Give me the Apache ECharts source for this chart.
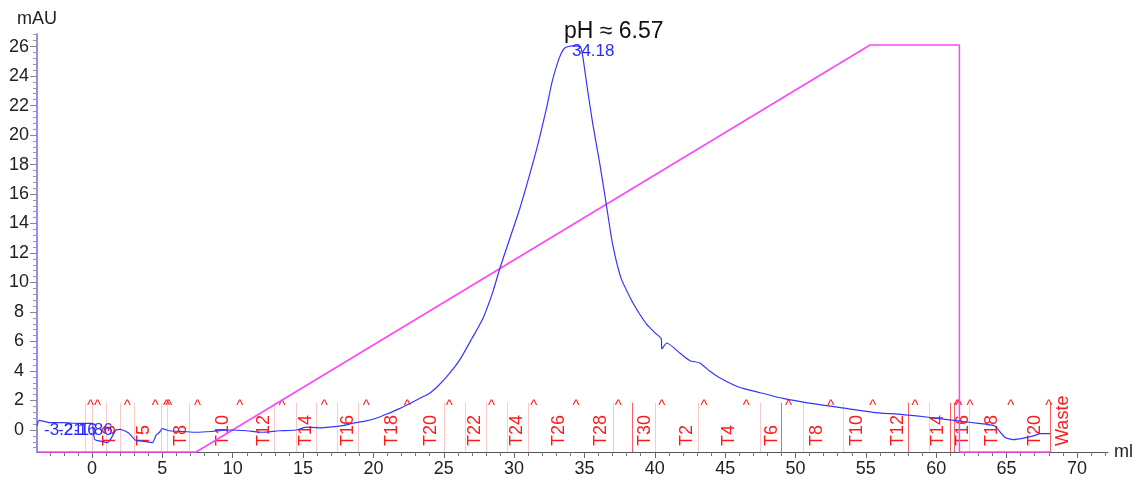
<!DOCTYPE html>
<html><head><meta charset="utf-8">
<script src="https://cdn.jsdelivr.net/npm/echarts@6/dist/echarts.min.js"></script>
<style>html,body{margin:0;padding:0;background:#fff}#c{width:1139px;height:481px}</style>
</head><body><div id="c"></div>
<script>
// ---- data ----
const uvCurve = [
 [-3.91,0.3],[-3.75,0.65],[-3.0,0.5],[-2.1,0.5],[-1.0,0.45],[0.0,0.45],[0.1,-0.2],[0.2,-0.65],[0.6,-0.75],
 [1.1,-0.85],[1.4,-0.5],[1.7,0.0],[2.0,0.05],[2.6,-0.2],[3.1,-0.7],[3.6,-0.75],[4.3,-0.85],[4.55,-0.35],
 [4.8,-0.15],[5.0,0.1],[5.5,-0.05],[6.5,-0.1],[7.4,-0.15],[8.5,-0.1],[9.75,0.0],[11.0,-0.05],[12.1,-0.15],
 [13.3,-0.05],[14.5,0.0],[15.2,0.2],[16.2,0.15],[16.9,0.2],[17.8,0.3],[18.5,0.45],[19.4,0.6],[20.2,0.8],
 [21.0,1.1],[21.85,1.45],[22.8,1.9],[23.3,2.15],[24.0,2.5],[24.5,2.9],[25.2,3.6],[26.1,4.7],[27.0,6.2],
 [27.8,7.6],[28.5,9.4],[29.0,11.0],[29.7,13.0],[30.4,15.0],[31.1,17.3],[31.7,19.4],[32.3,21.8],[32.7,23.6],
 [33.2,25.2],[33.6,25.9],[34.18,26.05],[34.7,26.0],[34.9,25.2],[35.2,23.2],[35.6,20.7],[36.1,18.0],
 [36.6,15.0],[37.0,12.6],[37.6,10.3],[38.4,8.7],[38.9,7.9],[39.4,7.2],[40.0,6.6],[40.45,6.2],[40.5,5.5],
 [40.85,5.9],[41.8,5.2],[42.5,4.7],[43.2,4.55],[43.9,4.0],[44.6,3.55],[46.0,2.9],[47.2,2.6],[49.1,2.15],
 [51.5,1.75],[53.7,1.45],[55.5,1.2],[57.6,1.05],[59.6,0.85],[61.7,0.6],[63.0,0.45],[64.1,0.3],[64.3,0.15],
 [64.9,-0.5],[65.5,-0.65],[66.2,-0.55],[66.9,-0.4],[67.4,-0.25],[68.1,-0.25]
];
const gradientCurve = [[-3.91,0],[7.4,0],[55.3,100],[61.65,100],[61.65,0],[68.1,0]];
const xTickLabels = [0,5,10,15,20,25,30,35,40,45,50,55,60,65,70];
const yTickLabels = [0,2,4,6,8,10,12,14,16,18,20,22,24,26];
const fractionLabels = ['T3','T5','T8','T10','T12','T14','T16','T18','T20','T22','T24','T26','T28','T30',
  'T2','T4','T6','T8','T10','T12','T14','T16','T18','T20','Waste'];
const fractionLabelMl = [1.3,3.7,6.3,9.3,12.2,15.2,18.2,21.3,24.1,27.2,30.2,33.2,36.2,39.3,
  42.3,45.3,48.3,51.5,54.4,57.3,60.1,61.9,64.0,67.0,69.0];
const fractionLinesFaint = [-0.5,0.0,1.0,2.0,3.0,4.9,5.3,6.9,12.9,14.5,15.9,17.4,18.9,25.0,26.5,28.0,29.5,31.0,
  37.0,40.0,43.1,47.5,50.5,53.4,59.5,62.3];
const fractionLinesStrong = [38.4,49.0,58.0,61.0,61.3,68.1];
const injectMarks = [-0.1,0.4,2.5,4.5,5.3,5.45,7.5,10.5,13.5,16.5,19.5,22.4,25.4,28.4,31.4,34.4,37.4,
  40.5,43.5,46.5,49.5,52.5,55.5,58.5,61.5,61.6,62.4,65.3,68.0];
const peakLabels = ['-3.21','-2.16','-1.86'];
const peakLabelMl = [-3.41,-2.42,-1.28];
const mainPeakLabel = '34.18';
const mainPeak = [34.18, 26.05];
const titleText = 'pH \u2248 6.57';

// ---- layout / style ----
const FONT = '"Liberation Sans", Arial, Helvetica, sans-serif';
const X_MIN = -3.91, X_MAX = 72.21, Y_MIN = -1.49, Y_MAX = 26.85;
const LINE_TOP = 1.85, LABEL_BASE = -1.08, MARK_Y = 1.62;

const xMinor = []; for (let i = -3; i <= 72; i++) xMinor.push(i);
const yMinor = []; for (let i = -3; i <= 67; i++) yMinor.push(Math.round(i * 0.4 * 100) / 100);

function vLines(color) {
  return function (params, api) {
    const a = api.coord([api.value(0), Y_MIN]);
    const b = api.coord([api.value(0), LINE_TOP]);
    const x = Math.round(a[0]) + 0.5;
    return { type: 'line', shape: { x1: x, y1: a[1], x2: x, y2: b[1] }, style: { stroke: color, lineWidth: 1 } };
  };
}

const chart = echarts.init(document.getElementById('c'), null, { renderer: 'canvas' });
chart.setOption({
  animation: false,
  backgroundColor: '#fff',
  title: { text: titleText, left: 559, top: 15, textStyle: { fontFamily: FONT, fontSize: 23, fontWeight: 'normal', color: '#111' } },
  grid: { left: 37, right: 31, top: 34, bottom: 29, containLabel: false },
  xAxis: [
    { type: 'value', min: X_MIN, max: X_MAX, position: 'bottom', offset: 0,
      name: 'ml', nameLocation: 'end', nameGap: 6,
      nameTextStyle: { fontFamily: FONT, fontSize: 18, color: '#222', verticalAlign: 'middle' },
      axisLine: { show: true, onZero: false, lineStyle: { color: '#555', width: 1 } },
      axisTick: { show: true, customValues: xMinor, length: 4, lineStyle: { color: '#777' } },
      axisLabel: { show: false }, splitLine: { show: false } },
    { type: 'value', min: X_MIN, max: X_MAX, position: 'bottom', offset: 0,
      axisLine: { show: false, onZero: false },
      axisTick: { show: true, customValues: xTickLabels, length: 6, lineStyle: { color: '#666' } },
      axisLabel: { show: true, customValues: xTickLabels, margin: 8, fontFamily: FONT, fontSize: 18, color: '#222' },
      splitLine: { show: false } }
  ],
  yAxis: [
    { type: 'value', min: Y_MIN, max: Y_MAX, position: 'left', offset: 0,
      name: 'mAU', nameLocation: 'end', nameGap: 6,
      nameTextStyle: { fontFamily: FONT, fontSize: 18, color: '#222', align: 'center' },
      axisLine: { show: true, onZero: false, lineStyle: { color: '#8f8fff', width: 2 } },
      axisTick: { show: true, customValues: yMinor, length: 4, lineStyle: { color: '#999' } },
      axisLabel: { show: false }, splitLine: { show: false } },
    { type: 'value', min: Y_MIN, max: Y_MAX, position: 'left', offset: 0,
      axisLine: { show: false, onZero: false },
      axisTick: { show: true, customValues: yTickLabels, length: 7, lineStyle: { color: '#888' } },
      axisLabel: { show: true, customValues: yTickLabels, align: 'center', margin: 18, fontFamily: FONT, fontSize: 18, color: '#222' },
      splitLine: { show: false } },
    { type: 'value', min: 0, max: 102.7, show: false, axisLine: { onZero: false } }
  ],
  series: [
    { type: 'custom', name: 'fracFaint', xAxisIndex: 0, yAxisIndex: 0, z: 1,
      data: fractionLinesFaint.map(v => [v, 0]), renderItem: vLines('rgba(255,60,60,0.28)') },
    { type: 'custom', name: 'fracStrong', xAxisIndex: 0, yAxisIndex: 0, z: 1,
      data: fractionLinesStrong.map(v => [v, 0]), renderItem: vLines('rgba(255,40,40,0.75)') },
    { type: 'custom', name: 'fracLabels', xAxisIndex: 0, yAxisIndex: 0, z: 3,
      data: fractionLabelMl.map(v => [v, LABEL_BASE]),
      renderItem: function (params, api) {
        const p = api.coord([api.value(0), api.value(1)]);
        return { type: 'text', x: p[0], y: p[1], rotation: Math.PI / 2,
          style: { text: fractionLabels[params.dataIndex], fill: '#ff1a1a', fontFamily: FONT, fontSize: 18, align: 'left', verticalAlign: 'middle' } };
      } },
    { type: 'custom', name: 'marks', xAxisIndex: 0, yAxisIndex: 0, z: 3,
      data: injectMarks.map(v => [v, MARK_Y]),
      renderItem: function (params, api) {
        const p = api.coord([api.value(0), api.value(1)]);
        return { type: 'text', x: p[0], y: p[1],
          style: { text: '^', fill: '#ff1a1a', fontFamily: FONT, fontSize: 15, align: 'center', verticalAlign: 'middle' } };
      } },
    { type: 'line', name: 'gradient', xAxisIndex: 0, yAxisIndex: 2, data: gradientCurve, showSymbol: false, symbol: 'none',
      clip: false, z: 4, lineStyle: { color: '#ff44ff', width: 1.5 } },
    { type: 'line', name: 'UV', xAxisIndex: 0, yAxisIndex: 0, data: uvCurve, showSymbol: false, symbol: 'none',
      smooth: 0.2, z: 5, lineStyle: { color: '#3535ff', width: 1.2 } },
    { type: 'custom', name: 'peakLabels', xAxisIndex: 0, yAxisIndex: 0, z: 6,
      data: peakLabelMl.map(v => [v, 0]),
      renderItem: function (params, api) {
        const p = api.coord([api.value(0), api.value(1)]);
        return { type: 'text', x: p[0], y: p[1],
          style: { text: peakLabels[params.dataIndex], fill: '#2a2aff', fontFamily: FONT, fontSize: 17, align: 'left', verticalAlign: 'middle' } };
      } },
    { type: 'custom', name: 'mainPeakLabel', xAxisIndex: 0, yAxisIndex: 0, z: 6,
      data: [mainPeak],
      renderItem: function (params, api) {
        const p = api.coord([api.value(0), api.value(1)]);
        return { type: 'text', x: p[0] - 1, y: p[1] - 3,
          style: { text: mainPeakLabel, fill: '#2a2aff', fontFamily: FONT, fontSize: 17, align: 'left', verticalAlign: 'top' } };
      } }
  ]
});
</script></body></html>
